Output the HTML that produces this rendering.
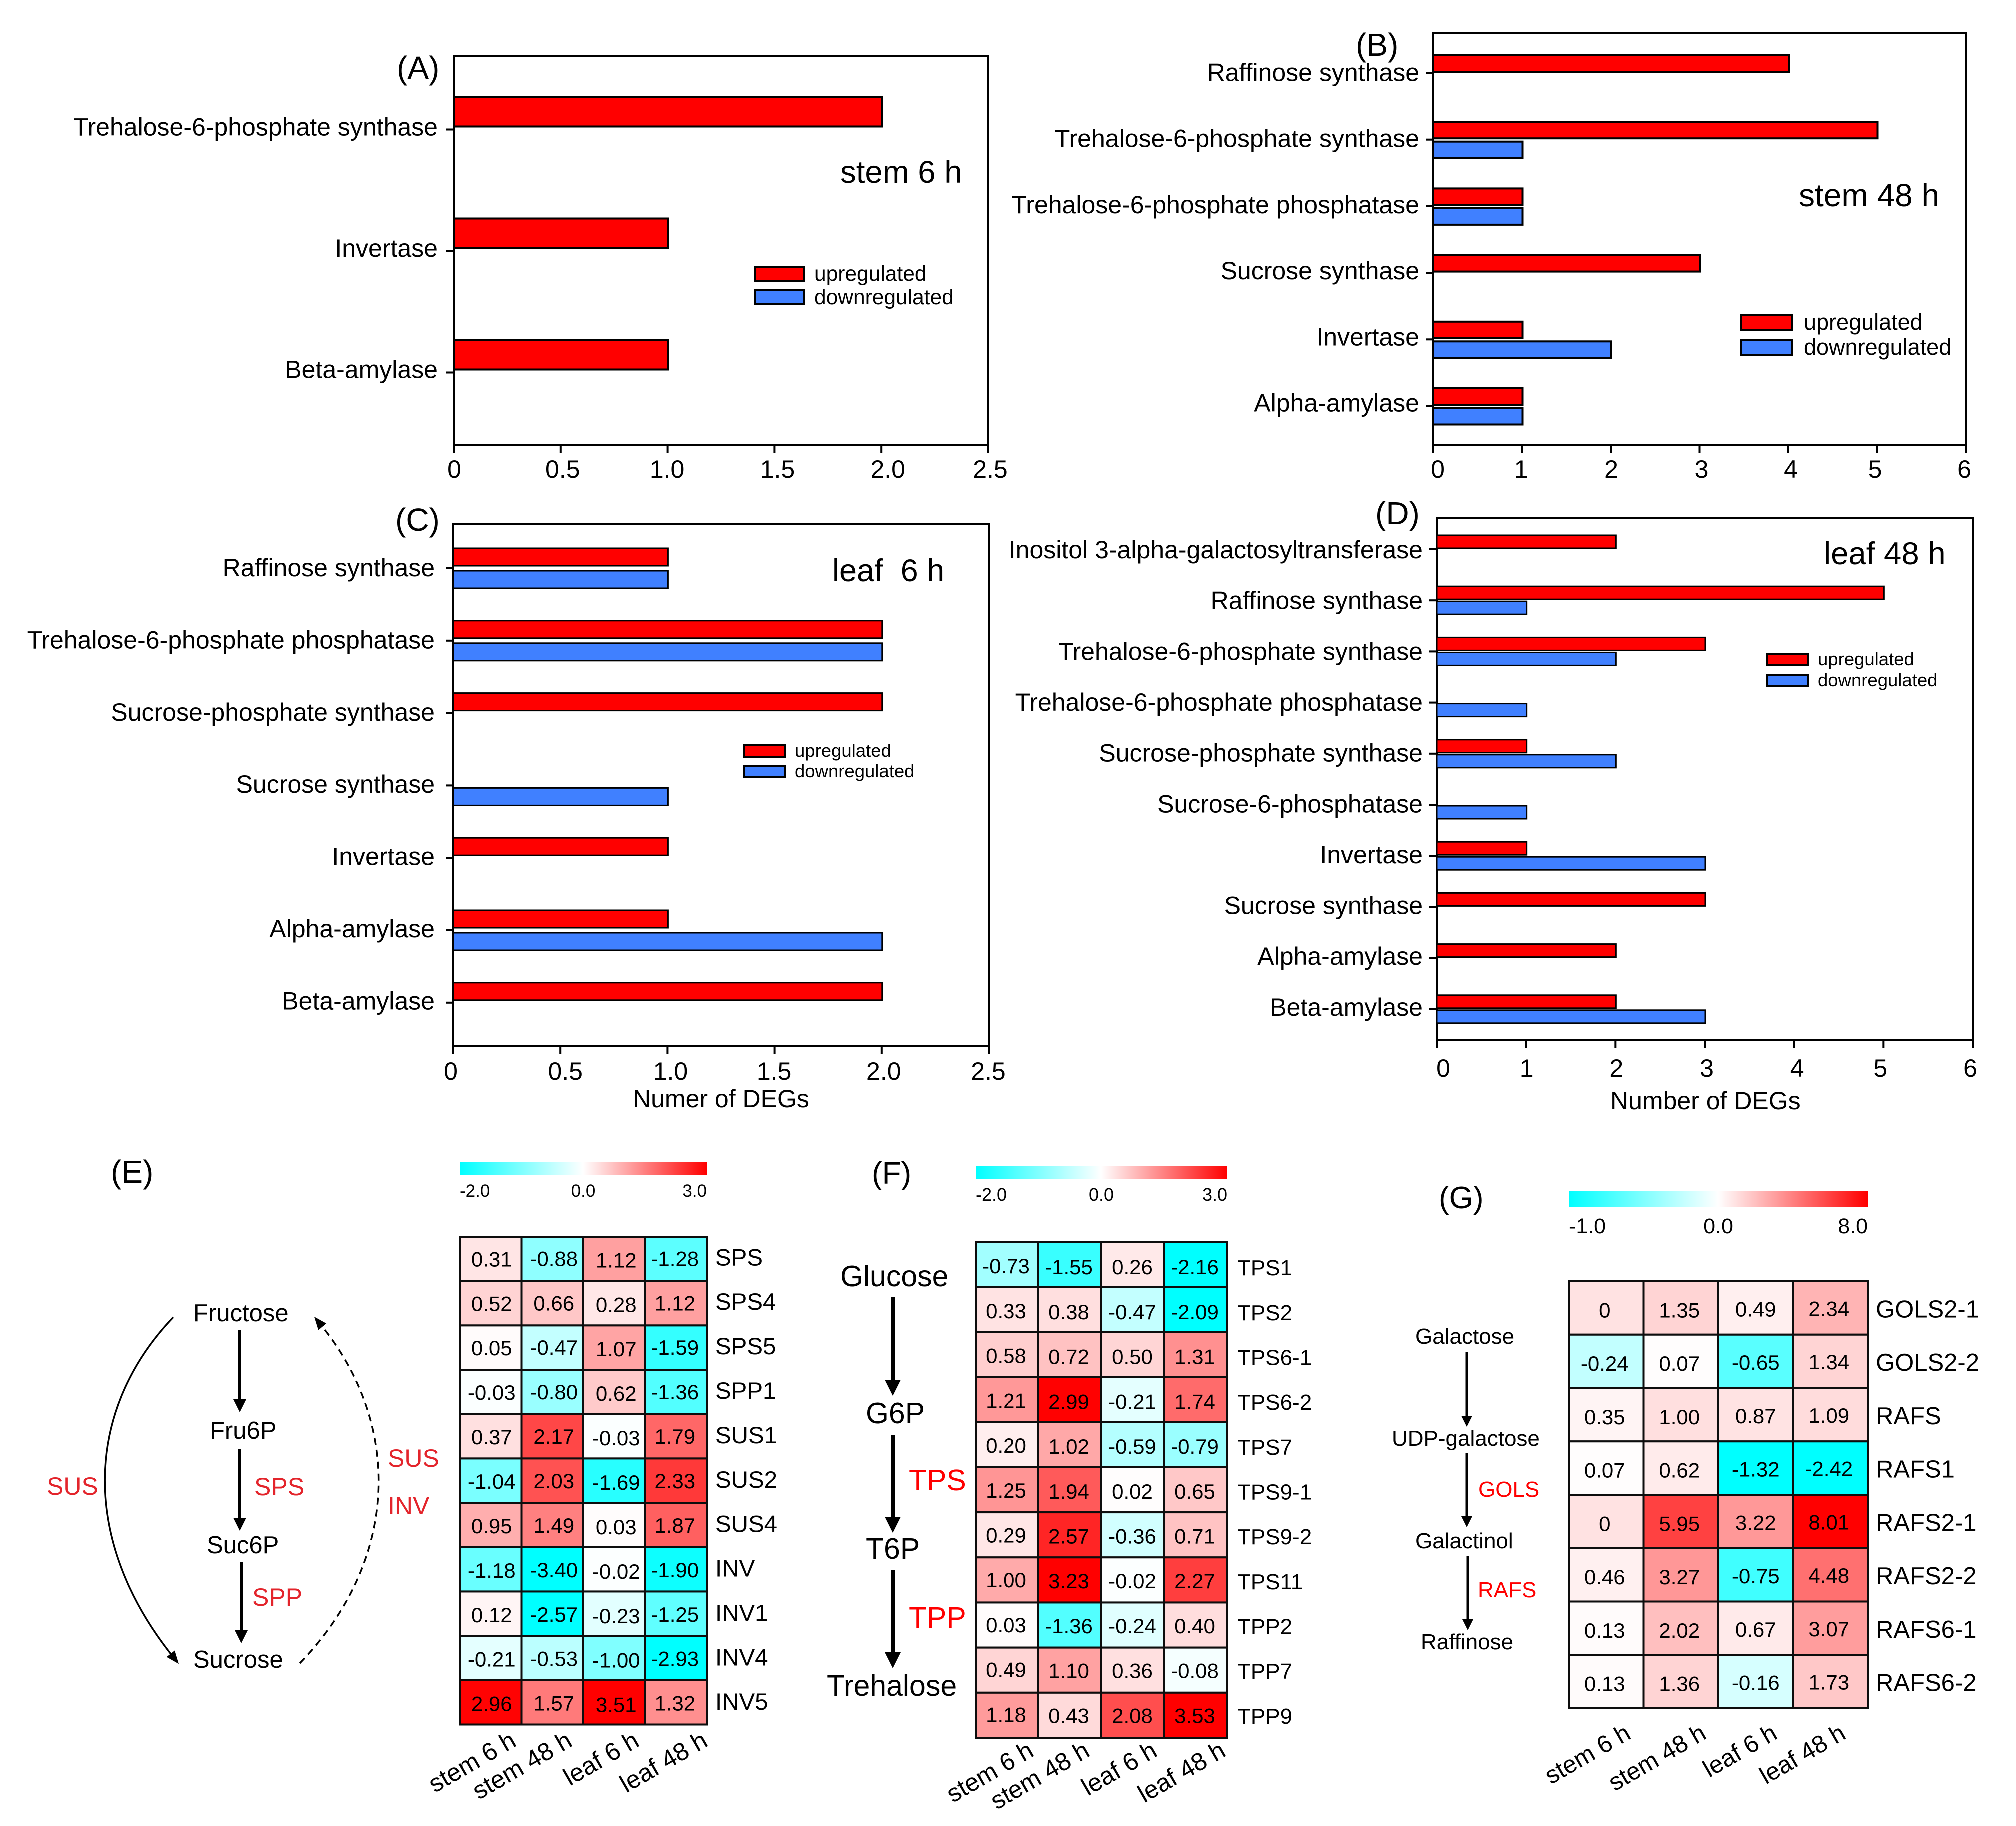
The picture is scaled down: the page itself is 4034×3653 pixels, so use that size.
<!DOCTYPE html>
<html lang="en">
<head>
<meta charset="utf-8">
<title>Sugar metabolism DEGs and expression heatmaps</title>
<style>
html,body{margin:0;padding:0;background:#fff;}
svg{display:block;font-family:"Liberation Sans",Arial,sans-serif;}
text{fill:#000;white-space:pre;}
.red{fill:#e3242b;}
.pure{fill:#ff0000;}
</style>
</head>
<body>
<svg id="fig" xmlns="http://www.w3.org/2000/svg" width="4034" height="3653" viewBox="0 0 4034 3653">
<defs>
<linearGradient id="cbar"><stop offset="0" stop-color="#00ffff"/><stop offset="0.5" stop-color="#ffffff"/><stop offset="1" stop-color="#ff0000"/></linearGradient>
<marker id="ah" viewBox="0 0 10 10" refX="0" refY="5" markerUnits="userSpaceOnUse" markerWidth="26" markerHeight="26" orient="auto"><path d="M0 0L10 5L0 10z" fill="#000"/></marker>
<marker id="ahf" viewBox="0 0 10 10" refX="0" refY="5" markerUnits="userSpaceOnUse" markerWidth="32" markerHeight="32" orient="auto"><path d="M0 0L10 5L0 10z" fill="#000"/></marker>
<marker id="ahg" viewBox="0 0 10 10" refX="0" refY="5" markerUnits="userSpaceOnUse" markerWidth="22" markerHeight="22" orient="auto"><path d="M0 0L10 5L0 10z" fill="#000"/></marker>
<marker id="ahc" viewBox="0 0 10 10" refX="2" refY="5" markerUnits="userSpaceOnUse" markerWidth="26" markerHeight="26" orient="auto"><path d="M0 1L10 5L0 9z" fill="#000"/></marker>
</defs>

<g>
<text x="222" y="2366" font-size="64">(E)</text>
<text x="387" y="2643" font-size="49">Fructose</text>
<text x="420" y="2878" font-size="49">Fru6P</text>
<text x="414" y="3107" font-size="49">Suc6P</text>
<text x="387" y="3336" font-size="49">Sucrose</text>
<line x1="480" y1="2661" x2="480" y2="2799" stroke="#000" stroke-width="6" marker-end="url(#ah)"/>
<line x1="480" y1="2898" x2="480" y2="3036" stroke="#000" stroke-width="6" marker-end="url(#ah)"/>
<line x1="483" y1="3124" x2="483" y2="3261" stroke="#000" stroke-width="6" marker-end="url(#ah)"/>
<path d="M347 2635C170 2820 160 3080 345 3312" fill="none" stroke="#000" stroke-width="3.5" marker-end="url(#ahc)"/>
<path d="M600 3327C800 3120 805 2850 642 2650" fill="none" stroke="#000" stroke-width="3.5" stroke-dasharray="14 10" marker-end="url(#ahc)"/>
<text class="red" x="94" y="2990" font-size="50">SUS</text>
<text class="red" x="509" y="2991" font-size="50">SPS</text>
<text class="red" x="505" y="3212" font-size="50">SPP</text>
<text class="red" x="776" y="2934" font-size="50">SUS</text>
<text class="red" x="776" y="3029" font-size="50">INV</text>
</g>

<g>
<text x="1744" y="2368" font-size="62">(F)</text>
<text x="1681" y="2573" font-size="59">Glucose</text>
<text x="1732" y="2847" font-size="59">G6P</text>
<text x="1732" y="3118" font-size="59">T6P</text>
<text x="1654" y="3392" font-size="59">Trehalose</text>
<line x1="1786" y1="2595" x2="1786" y2="2760" stroke="#000" stroke-width="8" marker-end="url(#ahf)"/>
<line x1="1786" y1="2870" x2="1786" y2="3034" stroke="#000" stroke-width="8" marker-end="url(#ahf)"/>
<line x1="1786" y1="3140" x2="1786" y2="3305" stroke="#000" stroke-width="8" marker-end="url(#ahf)"/>
<text class="pure" x="1818" y="2981" font-size="59">TPS</text>
<text class="pure" x="1818" y="3256" font-size="59">TPP</text>
</g>

<g>
<text x="2879" y="2417" font-size="62">(G)</text>
<text x="2832" y="2688" font-size="44">Galactose</text>
<text x="2785" y="2892" font-size="44">UDP-galactose</text>
<text x="2832" y="3097" font-size="44">Galactinol</text>
<text x="2843" y="3299" font-size="44">Raffinose</text>
<line x1="2935" y1="2705" x2="2935" y2="2832" stroke="#000" stroke-width="5" marker-end="url(#ahg)"/>
<line x1="2935" y1="2907" x2="2935" y2="3033" stroke="#000" stroke-width="5" marker-end="url(#ahg)"/>
<line x1="2937" y1="3113" x2="2937" y2="3239" stroke="#000" stroke-width="5" marker-end="url(#ahg)"/>
<text class="pure" x="2958" y="2994" font-size="44">GOLS</text>
<text class="pure" x="2957" y="3195" font-size="44">RAFS</text>
</g>

<script>
// ---- bar chart data ----
const aCategories = ['Trehalose-6-phosphate synthase','Invertase','Beta-amylase'];
const aUp = [2,1,1];
const aDown = [0,0,0];
const aTicks = [0,0.5,1,1.5,2,2.5];
const aTickLabels = ['0','0.5','1.0','1.5','2.0','2.5'];

const bCategories = ['Raffinose synthase','Trehalose-6-phosphate synthase','Trehalose-6-phosphate phosphatase','Sucrose synthase','Invertase','Alpha-amylase'];
const bUp = [4,5,1,3,1,1];
const bDown = [0,1,1,0,2,1];
const bTicks = [0,1,2,3,4,5,6];
const bTickLabels = ['0','1','2','3','4','5','6'];

const cCategories = ['Raffinose synthase','Trehalose-6-phosphate phosphatase','Sucrose-phosphate synthase','Sucrose synthase','Invertase','Alpha-amylase','Beta-amylase'];
const cUp = [1,2,2,0,1,1,2];
const cDown = [1,2,0,1,0,2,0];
const cTicks = [0,0.5,1,1.5,2,2.5];
const cTickLabels = ['0','0.5','1.0','1.5','2.0','2.5'];

const dCategories = ['Inositol 3-alpha-galactosyltransferase','Raffinose synthase','Trehalose-6-phosphate synthase','Trehalose-6-phosphate phosphatase','Sucrose-phosphate synthase','Sucrose-6-phosphatase','Invertase','Sucrose synthase','Alpha-amylase','Beta-amylase'];
const dUp = [2,5,3,0,1,0,1,3,2,2];
const dDown = [0,1,2,1,2,1,3,0,0,3];
const dTicks = [0,1,2,3,4,5,6];
const dTickLabels = ['0','1','2','3','4','5','6'];

// ---- heatmap data ----
const sampleLabels = ['stem 6 h','stem 48 h','leaf 6 h','leaf 48 h'];

const eGenes = ['SPS','SPS4','SPS5','SPP1','SUS1','SUS2','SUS4','INV','INV1','INV4','INV5'];
const eValues = [
 [0.31,-0.88,1.12,-1.28],
 [0.52,0.66,0.28,1.12],
 [0.05,-0.47,1.07,-1.59],
 [-0.03,-0.80,0.62,-1.36],
 [0.37,2.17,-0.03,1.79],
 [-1.04,2.03,-1.69,2.33],
 [0.95,1.49,0.03,1.87],
 [-1.18,-3.40,-0.02,-1.90],
 [0.12,-2.57,-0.23,-1.25],
 [-0.21,-0.53,-1.00,-2.93],
 [2.96,1.57,3.51,1.32]
];
const eScale = ['-2.0','0.0','3.0'];

const fGenes = ['TPS1','TPS2','TPS6-1','TPS6-2','TPS7','TPS9-1','TPS9-2','TPS11','TPP2','TPP7','TPP9'];
const fValues = [
 [-0.73,-1.55,0.26,-2.16],
 [0.33,0.38,-0.47,-2.09],
 [0.58,0.72,0.50,1.31],
 [1.21,2.99,-0.21,1.74],
 [0.20,1.02,-0.59,-0.79],
 [1.25,1.94,0.02,0.65],
 [0.29,2.57,-0.36,0.71],
 [1.00,3.23,-0.02,2.27],
 [0.03,-1.36,-0.24,0.40],
 [0.49,1.10,0.36,-0.08],
 [1.18,0.43,2.08,3.53]
];
const fScale = ['-2.0','0.0','3.0'];

const gGenes = ['GOLS2-1','GOLS2-2','RAFS','RAFS1','RAFS2-1','RAFS2-2','RAFS6-1','RAFS6-2'];
// colour values: the printed "0" cells are shaded pink in the source figure
const gValues = [
 [0.9,1.35,0.49,2.34],
 [-0.24,0.07,-0.65,1.34],
 [0.35,1.00,0.87,1.09],
 [0.07,0.62,-1.32,-2.42],
 [0.9,5.95,3.22,8.01],
 [0.46,3.27,-0.75,4.48],
 [0.13,2.02,0.67,3.07],
 [0.13,1.36,-0.16,1.73]
];
const gPrinted = [
 ['0','1.35','0.49','2.34'],
 ['-0.24','0.07','-0.65','1.34'],
 ['0.35','1.00','0.87','1.09'],
 ['0.07','0.62','-1.32','-2.42'],
 ['0','5.95','3.22','8.01'],
 ['0.46','3.27','-0.75','4.48'],
 ['0.13','2.02','0.67','3.07'],
 ['0.13','1.36','-0.16','1.73']
];
const gScale = ['-1.0','0.0','8.0'];

// ---- drawing ----
const NS = 'http://www.w3.org/2000/svg';
const svg = document.getElementById('fig');
function mk(parent, tag, attrs, txt){
  const e = document.createElementNS(NS, tag);
  for (const k in attrs) e.setAttribute(k, attrs[k]);
  if (txt !== undefined) e.textContent = txt;
  parent.appendChild(e);
  return e;
}

function drawBars(p){
  const g = mk(svg,'g',{});
  
  
  const xMax = p.ticks[p.ticks.length-1];
  const xScale = v => p.left + v * (p.right - p.left) / xMax;
  const yScale = i => p.tick0 + i * p.step;

  const frame = mk(g,'rect',{x:p.left,y:p.top,width:p.right-p.left,height:p.bottom-p.top,fill:'#fff',stroke:'#000','stroke-width':4});
  
  

  p.categories.forEach((c,i)=>{
    const ty = yScale(i);
    const tick = mk(g,'line',{x1:p.left-15,x2:p.left,y1:ty,y2:ty,stroke:'#000','stroke-width':4});
    
    
    const lab = mk(g,'text',{x:p.labelRight,y:p.tick0+i*p.labelStep+p.labelDy,'font-size':50,'text-anchor':'end'},c);
    
    
    if (p.up[i] > 0){
      const r = mk(g,'rect',{x:xScale(0),y:ty-p.upGap-p.barH,width:xScale(p.up[i])-xScale(0)+1,height:p.barH,fill:'#ff0000',stroke:'#000','stroke-width':p.barStroke});
      
      
    }
    if (p.down[i] > 0){
      const r = mk(g,'rect',{x:xScale(0),y:ty+p.downGap,width:xScale(p.down[i])-xScale(0)+1,height:p.barH,fill:'#4080ff',stroke:'#000','stroke-width':p.barStroke});
      
      
    }
  });

  p.ticks.forEach((t,i)=>{
    const tx = xScale(t);
    const tick = mk(g,'line',{x1:tx,x2:tx,y1:p.bottom,y2:p.bottom+16,stroke:'#000','stroke-width':4});
    
    
    const lab = mk(g,'text',{x:tx+p.nudge[i],y:p.xBase,'font-size':50,'text-anchor':'middle'},p.tickLabels[i]);
    
    
  });

  const pl = mk(g,'text',{x:p.panelX,y:p.panelY,'font-size':64},p.panel);
  
  
  const ti = mk(g,'text',{x:p.titleX,y:p.titleY,'font-size':p.titleSize},p.title);
  
  

  if (p.axisTitle){
    const at = mk(g,'text',{x:p.axisTitleX,y:p.axisTitleY,'font-size':50},p.axisTitle);
    
    
  }

  const L = p.legend;
  const s1 = mk(g,'rect',{x:L.x,y:L.y1,width:L.w,height:L.h,fill:'#ff0000',stroke:'#000','stroke-width':4});
  
  
  const t1 = mk(g,'text',{x:L.tx,y:L.y1+L.h,'font-size':L.fs},'upregulated');
  
  
  const s2 = mk(g,'rect',{x:L.x,y:L.y2,width:L.w,height:L.h,fill:'#4080ff',stroke:'#000','stroke-width':4});
  
  
  const t2 = mk(g,'text',{x:L.tx,y:L.y2+L.h,'font-size':L.fs},'downregulated');
  
  
}

drawBars({id:'a',panel:'(A)',title:'stem 6 h',categories:aCategories,up:aUp,down:aDown,ticks:aTicks,tickLabels:aTickLabels,
  left:908,right:1977,top:113,bottom:890,tick0:259.5,step:243,labelStep:242.6,barH:59,upGap:6,downGap:6,barStroke:4,
  labelRight:876,labelDy:12,xBase:956,nudge:[1,4,-1,6,13,4],
  panelX:794,panelY:158,titleX:1681,titleY:366,titleSize:63.5,
  legend:{x:1510,y1:534,y2:581,w:98,h:28,tx:1629,fs:42.5}});
drawBars({id:'b',panel:'(B)',title:'stem 48 h',categories:bCategories,up:bUp,down:bDown,ticks:bTicks,tickLabels:bTickLabels,
  left:2868,right:3933,top:67,bottom:891,tick0:146.5,step:133.2,labelStep:132.2,barH:33,upGap:2.5,downGap:4,barStroke:4,
  labelRight:2840,labelDy:16,xBase:956,nudge:[9,-2,1,4,5,-4,-3],
  panelX:2713,panelY:112,titleX:3599,titleY:413,titleSize:64,
  legend:{x:3483,y1:631,y2:681,w:103,h:29,tx:3609,fs:45}});
drawBars({id:'c',panel:'(C)',title:'leaf  6 h',categories:cCategories,up:cUp,down:cDown,ticks:cTicks,tickLabels:cTickLabels,
  left:907,right:1978,top:1049,bottom:2093,tick0:1137,step:144.8,labelStep:144.4,barH:35,upGap:5,downGap:5,barStroke:3,
  labelRight:870,labelDy:16,xBase:2160,nudge:[-5,10,6,-1,4,-1],
  panelX:791,panelY:1062,titleX:1665,titleY:1163,titleSize:63,axisTitle:'Numer of DEGs',axisTitleX:1266,axisTitleY:2215,
  legend:{x:1488,y1:1491,y2:1532,w:82,h:23,tx:1590,fs:36.5}});
drawBars({id:'d',panel:'(D)',title:'leaf 48 h',categories:dCategories,up:dUp,down:dDown,ticks:dTicks,tickLabels:dTickLabels,
  left:2875,right:3947,top:1037,bottom:2080,tick0:1099,step:102.2,labelStep:101.65,barH:26,upGap:2,downGap:2,barStroke:3,
  labelRight:2847,labelDy:18,xBase:2154,nudge:[13,1,2,4,6,-6,-5],
  panelX:2752,panelY:1049,titleX:3649,titleY:1129,titleSize:63.5,axisTitle:'Number of DEGs',axisTitleX:3222,axisTitleY:2219,
  legend:{x:3536,y1:1308,y2:1350,w:82,h:23,tx:3637,fs:36.5}});

function heatColor(v, lo, hi){
  const t = v < 0 ? Math.min(1, v / lo) : Math.min(1, v / hi);
  const c = Math.round(255 * (1 - t));
  return v < 0 ? `rgb(${c},255,255)` : `rgb(255,${c},${c})`;
}

function drawHeat(p){
  const g = mk(svg,'g',{});
  
  
  const nR = p.genes.length, nC = sampleLabels.length;
  const colX = j => p.left + j * (p.right - p.left) / nC;
  const rowY = i => p.top + i * (p.bottom - p.top) / nR;
  const cw = (p.right - p.left) / nC, rh = (p.bottom - p.top) / nR;

  const bar = mk(g,'rect',{x:p.left,y:p.barTop,width:p.right-p.left,height:p.barH,fill:'url(#cbar)'});
  
  
  const anchors = ['start','middle','end'];
  const anchorX = [p.left,(p.left+p.right)/2,p.right];
  p.scale.forEach((s,k)=>{
    const t = mk(g,'text',{x:anchorX[k],y:p.scaleBase,'font-size':p.scaleFs,'text-anchor':anchors[k]},s);
    
    
  });

  p.values.forEach((row,i)=>{
    row.forEach((v,j)=>{
      const cell = mk(g,'rect',{x:colX(j),y:rowY(i),width:cw,height:rh,fill:heatColor(v,p.lo,p.hi),stroke:'#0d0d0d','stroke-width':4});
      
      
      const str = p.printed ? p.printed[i][j] : v.toFixed(2);
      const t = mk(g,'text',{x:colX(j)+cw/2+p.colDx[j],y:rowY(i)+rh/2+p.cellDy+p.colDy[j]+i*p.cellDrift,'font-size':42,'text-anchor':'middle'},str);
      
      
    });
    const lab = mk(g,'text',{x:p.geneX,y:rowY(i)+rh/2+p.geneDy+i*p.geneDrift,'font-size':p.geneFs},p.genes[i]);
    
    
  });

  sampleLabels.forEach((s,j)=>{
    const x = p.sampleEnds[j], y = p.sampleY;
    const t = mk(g,'text',{x:x,y:y,'font-size':p.sampleFs,'text-anchor':'end',transform:`rotate(-30 ${x} ${y})`},s);
    
    
  });
}

drawHeat({id:'e',genes:eGenes,values:eValues,scale:eScale,lo:-2,hi:3,
  left:920,right:1414,top:2474,bottom:3449.5,barTop:2324,barH:26,scaleBase:2394,scaleFs:35,
  geneX:1431,geneDy:13,geneDrift:0.2,geneFs:47.5,cellDy:15,cellDrift:0.25,colDx:[2,3,4,-2],colDy:[0,-1,2,-1],
  sampleEnds:[1036,1148,1282,1419],sampleY:3491,sampleFs:50});
drawHeat({id:'f',genes:fGenes,values:fValues,scale:fScale,lo:-2,hi:3,
  left:1952,right:2456,top:2484,bottom:3476,barTop:2332,barH:27,scaleBase:2402,scaleFs:36,
  geneX:2476,geneDy:22,geneDrift:-0.5,geneFs:44,cellDy:19,cellDrift:-0.45,colDx:[-2,-2,-1,-2],colDy:[-1,1,1,1],
  sampleEnds:[2072,2184,2319,2456],sampleY:3511,sampleFs:50});
drawHeat({id:'g',genes:gGenes,values:gValues,printed:gPrinted,scale:gScale,lo:-1,hi:8,
  left:3139,right:3737,top:2563,bottom:3417,barTop:2383,barH:31,scaleBase:2467,scaleFs:43,
  geneX:3753,geneDy:19,geneDrift:0,geneFs:49,cellDy:18,cellDrift:0,colDx:[-3,-3,0,-3],colDy:[1,1,-1,-2],
  sampleEnds:[3266,3417,3559,3696],sampleY:3476,sampleFs:49});
</script>
</svg>
</body>
</html>
